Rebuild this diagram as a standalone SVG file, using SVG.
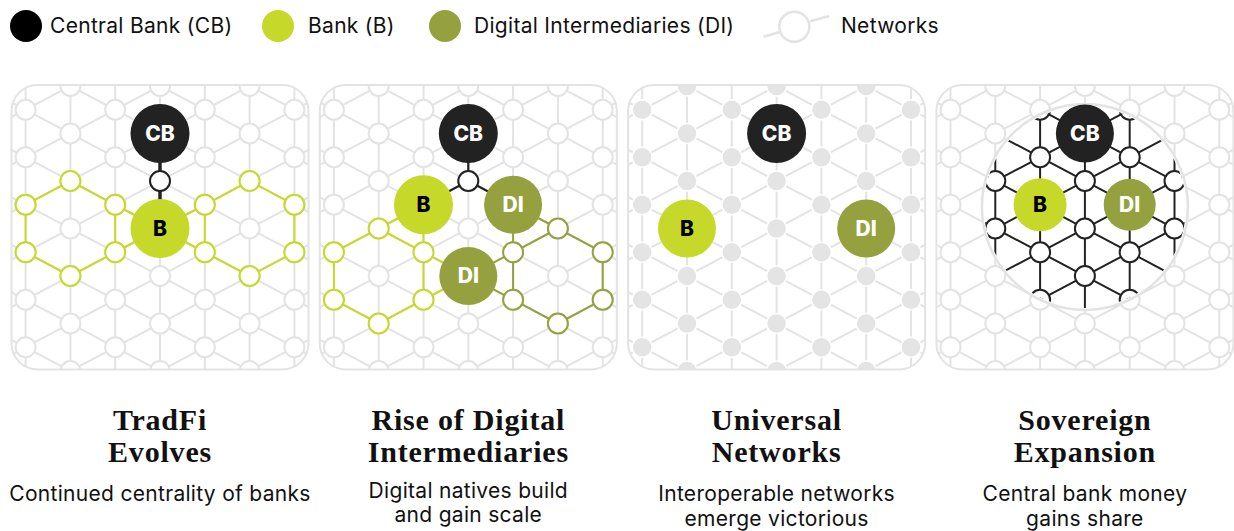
<svg xmlns="http://www.w3.org/2000/svg" xmlns:xlink="http://www.w3.org/1999/xlink" width="1234" height="531" viewBox="0 0 1234 531">
<style>
.lat{fill:none;stroke:#e3e3e3;stroke-width:2}
.latn{fill:#fff;stroke:#e3e3e3;stroke-width:2}
.latf{fill:#e4e4e4;stroke:#fff;stroke-width:1.5}
.blk{fill:none;stroke:#222;stroke-width:2}
.blkn{fill:#fff;stroke:#222;stroke-width:2}
.frame{fill:none;stroke:#e3e3e3;stroke-width:2}
.gl{fill:none;stroke:#c6d92b;stroke-width:2}
.gn{fill:#fff;stroke:#c6d92b;stroke-width:2}
.ol{fill:none;stroke:#95a13f;stroke-width:2}
.on{fill:#fff;stroke:#95a13f;stroke-width:2}
.cb{fill:#222}
.b{fill:#c6d92b}
.di{fill:#95a13f}
.lbl{font-family:Inter,"Liberation Sans",sans-serif;font-weight:800;font-size:21px;text-anchor:middle}
.w{fill:#fff}
.k{fill:#000}
.title{font-family:"Liberation Serif",serif;font-weight:700;font-size:30px;text-anchor:middle;fill:#111;letter-spacing:0.8px}
.sub{font-family:Inter,"Liberation Sans",sans-serif;font-size:21px;text-anchor:middle;fill:#111;letter-spacing:0.3px}
.leg{font-family:Inter,"Liberation Sans",sans-serif;font-size:21px;fill:#111;letter-spacing:0.3px}
</style>
<defs>
<path id="latLines" d="M-30.7 60V400M14.1 60V400M58.9 60V400M103.7 60V400M148.5 60V400M193.3 60V400M238.1 60V400M282.9 60V400M327.7 60V400
M-30.7 -104L327.7 86M-30.7 -56.5L327.7 133.5M-30.7 -9L327.7 181M-30.7 38.5L327.7 228.5M-30.7 86L327.7 276M-30.7 133.5L327.7 323.5M-30.7 181L327.7 371M-30.7 228.5L327.7 418.5M-30.7 276L327.7 466M-30.7 323.5L327.7 513.5M-30.7 371L327.7 561
M-30.7 86L327.7 -104M-30.7 133.5L327.7 -56.5M-30.7 181L327.7 -9M-30.7 228.5L327.7 38.5M-30.7 276L327.7 86M-30.7 323.5L327.7 133.5M-30.7 371L327.7 181M-30.7 418.5L327.7 228.5M-30.7 466L327.7 276M-30.7 513.5L327.7 323.5M-30.7 561L327.7 371"/>
<g id="latNodes">
<circle cx="14.1" cy="109.75" r="10"/><circle cx="14.1" cy="157.25" r="10"/><circle cx="14.1" cy="204.75" r="10"/><circle cx="14.1" cy="252.25" r="10"/><circle cx="14.1" cy="299.75" r="10"/><circle cx="14.1" cy="347.25" r="10"/>
<circle cx="103.7" cy="109.75" r="10"/><circle cx="103.7" cy="157.25" r="10"/><circle cx="103.7" cy="204.75" r="10"/><circle cx="103.7" cy="252.25" r="10"/><circle cx="103.7" cy="299.75" r="10"/><circle cx="103.7" cy="347.25" r="10"/>
<circle cx="193.3" cy="109.75" r="10"/><circle cx="193.3" cy="157.25" r="10"/><circle cx="193.3" cy="204.75" r="10"/><circle cx="193.3" cy="252.25" r="10"/><circle cx="193.3" cy="299.75" r="10"/><circle cx="193.3" cy="347.25" r="10"/>
<circle cx="282.9" cy="109.75" r="10"/><circle cx="282.9" cy="157.25" r="10"/><circle cx="282.9" cy="204.75" r="10"/><circle cx="282.9" cy="252.25" r="10"/><circle cx="282.9" cy="299.75" r="10"/><circle cx="282.9" cy="347.25" r="10"/>
<circle cx="58.9" cy="86" r="10"/><circle cx="58.9" cy="133.5" r="10"/><circle cx="58.9" cy="181" r="10"/><circle cx="58.9" cy="228.5" r="10"/><circle cx="58.9" cy="276" r="10"/><circle cx="58.9" cy="323.5" r="10"/><circle cx="58.9" cy="371" r="10"/>
<circle cx="148.5" cy="86" r="10"/><circle cx="148.5" cy="133.5" r="10"/><circle cx="148.5" cy="181" r="10"/><circle cx="148.5" cy="228.5" r="10"/><circle cx="148.5" cy="276" r="10"/><circle cx="148.5" cy="323.5" r="10"/><circle cx="148.5" cy="371" r="10"/>
<circle cx="238.1" cy="86" r="10"/><circle cx="238.1" cy="133.5" r="10"/><circle cx="238.1" cy="181" r="10"/><circle cx="238.1" cy="228.5" r="10"/><circle cx="238.1" cy="276" r="10"/><circle cx="238.1" cy="323.5" r="10"/><circle cx="238.1" cy="371" r="10"/>
</g>
<clipPath id="panelClip"><rect x="0" y="85" width="297" height="284.5" rx="26"/></clipPath>
<clipPath id="ringClip"><circle cx="148.5" cy="207" r="101"/></clipPath>
</defs>

<g id="legend">
<g id="legend-cb"><circle cx="26" cy="26" r="16" fill="#000"/><text class="leg" x="50" y="33">Central Bank (CB)</text></g>
<g id="legend-b"><circle cx="278" cy="26" r="16" class="b"/><text class="leg" x="308" y="33">Bank (B)</text></g>
<g id="legend-di"><circle cx="445" cy="26" r="16" class="di"/><text class="leg" x="474" y="33">Digital Intermediaries (DI)</text></g>
<g id="legend-net"><path d="M763.3 36.7L779 32.2M810 21.3L829.3 16" stroke="#e3e3e3" stroke-width="2.5" fill="none"/><circle cx="794.3" cy="26.7" r="15" fill="#fff" stroke="#e3e3e3" stroke-width="2.5"/><text class="leg" x="841" y="33">Networks</text></g>
</g>

<!-- Panel 1 -->
<g id="panel1" transform="translate(11.5,0)">
<g clip-path="url(#panelClip)"><use xlink:href="#latLines" class="lat"/><use xlink:href="#latNodes" class="latn"/></g>
<rect class="frame" x="0" y="85" width="297" height="284.5" rx="26"/>
<g id="p1-connectors">
<path class="gl" d="M58.9 181L103.7 204.75L103.7 252.25L58.9 276L14.1 252.25L14.1 204.75ZM238.1 181L282.9 204.75L282.9 252.25L238.1 276L193.3 252.25L193.3 204.75ZM148.5 228.5L103.7 204.75M148.5 228.5L103.7 252.25M148.5 228.5L193.3 204.75M148.5 228.5L193.3 252.25"/>
<path d="M148.5 133.5V228.5" stroke="#222" stroke-width="3.5"/>
</g>
<g id="p1-green-nodes" class="gn">
<circle cx="58.9" cy="181" r="10"/><circle cx="103.7" cy="204.75" r="10"/><circle cx="103.7" cy="252.25" r="10"/><circle cx="58.9" cy="276" r="10"/><circle cx="14.1" cy="252.25" r="10"/><circle cx="14.1" cy="204.75" r="10"/>
<circle cx="238.1" cy="181" r="10"/><circle cx="282.9" cy="204.75" r="10"/><circle cx="282.9" cy="252.25" r="10"/><circle cx="238.1" cy="276" r="10"/><circle cx="193.3" cy="252.25" r="10"/><circle cx="193.3" cy="204.75" r="10"/>
</g>
<g id="p1-link"><circle class="blkn" cx="148.5" cy="181" r="10"/></g>
<g id="p1-cb"><circle class="cb" cx="148.5" cy="133.5" r="29.5"/><text class="lbl w" x="148.5" y="141">CB</text></g>
<g id="p1-b"><circle class="b" cx="148.5" cy="228.5" r="29.5"/><text class="lbl k" x="148.5" y="236">B</text></g>
<text class="title" x="148.5" y="430">TradFi</text>
<text class="title" x="148.5" y="462">Evolves</text>
<text class="sub" x="148.5" y="501">Continued centrality of banks</text>
</g>

<!-- Panel 2 -->
<g id="panel2" transform="translate(319.8,0)">
<g clip-path="url(#panelClip)"><use xlink:href="#latLines" class="lat"/><use xlink:href="#latNodes" class="latn"/></g>
<rect class="frame" x="0" y="85" width="297" height="284.5" rx="26"/>
<g id="p2-connectors">
<path class="gl" d="M58.9 228.5L103.7 252.25L103.7 299.75L58.9 323.5L14.1 299.75L14.1 252.25ZM103.7 204.75L58.9 228.5M103.7 204.75L103.7 252.25M103.7 252.25L148.5 276M103.7 299.75L148.5 276"/>
<path class="ol" d="M238.1 228.5L282.9 252.25L282.9 299.75L238.1 323.5L193.3 299.75L193.3 252.25ZM193.3 204.75L238.1 228.5M193.3 204.75L193.3 252.25M148.5 276L193.3 252.25M148.5 276L193.3 299.75"/>
<path d="M148.5 133.5V181M148.5 181L103.7 204.75M148.5 181L193.3 204.75" stroke="#222" stroke-width="2.2" fill="none"/>
</g>
<g id="p2-green-nodes" class="gn">
<circle cx="58.9" cy="228.5" r="10"/><circle cx="103.7" cy="252.25" r="10"/><circle cx="103.7" cy="299.75" r="10"/><circle cx="58.9" cy="323.5" r="10"/><circle cx="14.1" cy="299.75" r="10"/><circle cx="14.1" cy="252.25" r="10"/>
</g>
<g id="p2-olive-nodes" class="on">
<circle cx="238.1" cy="228.5" r="10"/><circle cx="282.9" cy="252.25" r="10"/><circle cx="282.9" cy="299.75" r="10"/><circle cx="238.1" cy="323.5" r="10"/><circle cx="193.3" cy="299.75" r="10"/><circle cx="193.3" cy="252.25" r="10"/>
</g>
<g id="p2-link"><circle class="blkn" cx="148.5" cy="181" r="10"/></g>
<g id="p2-cb"><circle class="cb" cx="148.5" cy="133.5" r="29.5"/><text class="lbl w" x="148.5" y="141">CB</text></g>
<g id="p2-b"><circle class="b" cx="103.7" cy="204.75" r="29.5"/><text class="lbl k" x="103.7" y="212">B</text></g>
<g id="p2-di1"><circle class="di" cx="193.3" cy="204.75" r="29"/><text class="lbl w" x="193.3" y="212">DI</text></g>
<g id="p2-di2"><circle class="di" cx="148.5" cy="276" r="29"/><text class="lbl w" x="148.5" y="283">DI</text></g>
<text class="title" x="148.5" y="430">Rise of Digital</text>
<text class="title" x="148.5" y="462">Intermediaries</text>
<text class="sub" x="148.5" y="498">Digital natives build</text>
<text class="sub" x="148.5" y="522">and gain scale</text>
</g>

<!-- Panel 3 -->
<g id="panel3" transform="translate(628.1,0)">
<g clip-path="url(#panelClip)"><use xlink:href="#latLines" class="lat"/><use xlink:href="#latNodes" class="latf"/></g>
<rect class="frame" x="0" y="85" width="297" height="284.5" rx="26"/>
<g id="p3-cb"><circle class="cb" cx="148.5" cy="133.5" r="29.5"/><text class="lbl w" x="148.5" y="141">CB</text></g>
<g id="p3-b"><circle class="b" cx="58.9" cy="228.5" r="29"/><text class="lbl k" x="58.9" y="236">B</text></g>
<g id="p3-di"><circle class="di" cx="238.1" cy="228.5" r="29"/><text class="lbl w" x="238.1" y="236">DI</text></g>
<text class="title" x="148.5" y="430">Universal</text>
<text class="title" x="148.5" y="462">Networks</text>
<text class="sub" x="148.5" y="501">Interoperable networks</text>
<text class="sub" x="148.5" y="526">emerge victorious</text>
</g>

<!-- Panel 4 -->
<g id="panel4" transform="translate(936.4,0)">
<g clip-path="url(#panelClip)"><use xlink:href="#latLines" class="lat"/><use xlink:href="#latNodes" class="latn"/></g>
<rect class="frame" x="0" y="85" width="297" height="284.5" rx="26"/>
<circle cx="148.5" cy="207" r="103" fill="#fff" stroke="#e3e3e3" stroke-width="2.5"/>
<g id="p4-network" clip-path="url(#ringClip)"><use xlink:href="#latLines" class="blk"/><use xlink:href="#latNodes" class="blkn"/></g>
<g id="p4-cb"><circle class="cb" cx="148.5" cy="133.5" r="29"/><text class="lbl w" x="148.5" y="141">CB</text></g>
<g id="p4-b"><circle class="b" cx="103.7" cy="204.75" r="26.5"/><text class="lbl k" x="103.7" y="212">B</text></g>
<g id="p4-di"><circle class="di" cx="193.3" cy="204.75" r="26"/><text class="lbl w" x="193.3" y="212">DI</text></g>
<text class="title" x="148.5" y="430">Sovereign</text>
<text class="title" x="148.5" y="462">Expansion</text>
<text class="sub" x="148.5" y="501">Central bank money</text>
<text class="sub" x="148.5" y="526">gains share</text>
</g>
</svg>
